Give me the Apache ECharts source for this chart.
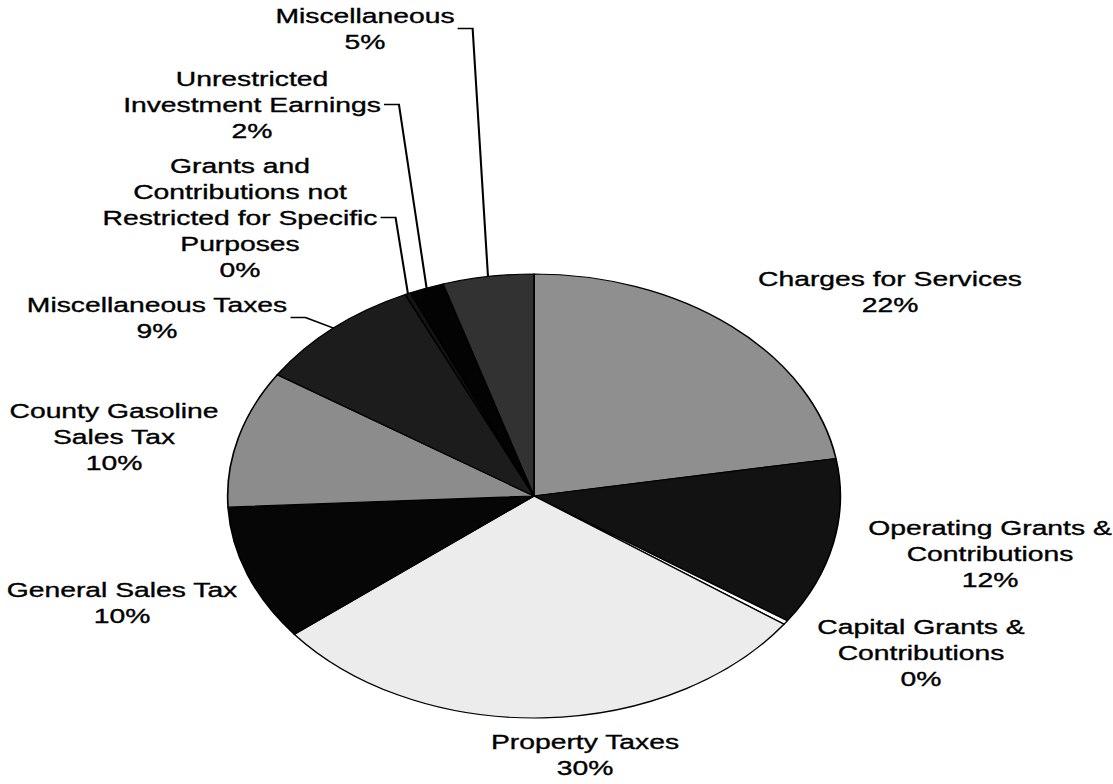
<!DOCTYPE html>
<html>
<head>
<meta charset="utf-8">
<script src="https://cdn.jsdelivr.net/npm/echarts@6.0.0/dist/echarts.min.js"></script>
<style>
html,body{margin:0;padding:0;background:#fff;overflow:hidden;width:1113px;height:784px;}
#chart{width:807px;height:784px;transform:scaleX(1.38);transform-origin:0 0;}
</style>
</head>
<body>
<div id="chart"></div>
<script>
// ---- data ----
const categories = [
  'Charges for Services',
  'Operating Grants &\nContributions',
  'Capital Grants &\nContributions',
  'Property Taxes',
  'General Sales Tax',
  'County Gasoline\nSales Tax',
  'Miscellaneous Taxes',
  'Grants and\nContributions not\nRestricted for Specific\nPurposes',
  'Unrestricted\nInvestment Earnings',
  'Miscellaneous'
];
const values = [22.3, 12.2, 0.3, 29.5, 9.9, 10.0, 8.9, 0.3, 1.8, 4.8];

// ---- styles / layout (kept separate from data) ----
const sliceColors = ['#8f8f8f', '#121212', '#ffffff', '#ececec', '#060606',
                     '#8c8c8c', '#1c1c1c', '#141414', '#030303', '#323232'];
const labelCenters = [[890, 291.5], [990, 553.5], [921, 653], [585, 754.5], [122, 602.5],
                      [114, 436.5], [157, 317.5], [240, 217.5], [252, 104.5], [365, 28.5]];
const hasLeader = [false, false, false, false, false, false, true, true, true, true];

const S = 1.38;          // horizontal stretch of the picture
const FS = 20.5;         // font size
const LH = 26;           // line height
const FONT_FAMILY = '"Liberation Sans", Arial, sans-serif';

const ctx = document.createElement('canvas').getContext('2d');
ctx.font = FS + 'px "Liberation Sans"';
function widestLine(text) {
  return Math.max.apply(null, text.split('\n').map(l => ctx.measureText(l).width));
}

const chart = echarts.init(document.getElementById('chart'), null, {renderer: 'svg'});

const seriesData = categories.map((name, i) => ({
  name: name,
  value: values[i],
  itemStyle: {color: sliceColors[i]},
  labelLine: {show: hasLeader[i]}
}));

chart.setOption({
  backgroundColor: '#ffffff',
  animation: false,
  series: [{
    type: 'pie',
    center: [534 / S, 496],
    radius: 222,
    startAngle: 90,
    clockwise: true,
    avoidLabelOverlap: false,
    data: seriesData,
    itemStyle: {borderColor: '#000', borderWidth: 1.2},
    label: {
      show: true,
      position: 'outside',
      width: 420,
      overflow: 'none',
      fontFamily: FONT_FAMILY,
      fontSize: FS,
      lineHeight: LH,
      color: '#000',
      textBorderColor: '#000',
      textBorderWidth: 0.35,
      formatter: p => p.name + '\n' + Math.round(p.percent) + '%'
    },
    labelLine: {
      show: true,
      smooth: false,
      length: 10,
      length2: 10,
      lineStyle: {color: '#000', width: 1.5}
    },
    emphasis: {disabled: true},
    labelLayout: function (p) {
      const i = p.dataIndex;
      const c = labelCenters[i];
      const x = c[0] / S, y = c[1];
      const res = {x: x, y: y, align: 'center', verticalAlign: 'middle'};
      if (hasLeader[i] && p.labelLinePoints) {
        const w = widestLine(categories[i]);
        const ax = x + w / 2 + 3 / S;
        const start = p.labelLinePoints[0];
        res.labelLinePoints = [[start[0], start[1]], [ax + 15 / S, y], [ax, y]];
      }
      return res;
    }
  }]
});
</script>
</body>
</html>
